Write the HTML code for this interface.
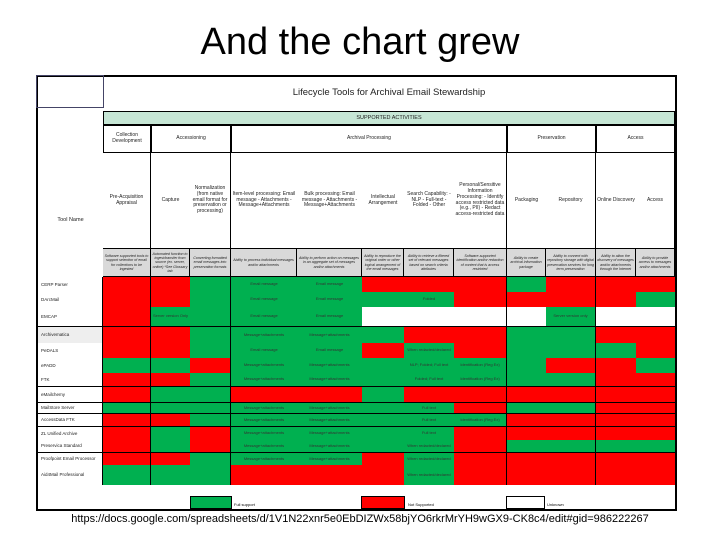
<!DOCTYPE html>
<html><head><meta charset="utf-8">
<style>
body{margin:0;width:720px;height:540px;background:#fff;overflow:hidden;position:relative;font-family:"Liberation Sans",sans-serif}
.a{position:absolute;box-sizing:border-box}
.c{display:flex;align-items:center;justify-content:center;text-align:center;font-size:5px;line-height:1.15;color:#222}
</style></head><body>
<div class="a" style="left:0;top:21px;width:720px;text-align:center;font-size:38px;color:#000">And the chart grew</div>
<div class="a" style="left:36px;top:75px;width:641px;height:436px;border:2px solid #000"></div>
<div class="a" style="left:36px;top:75px;width:68px;height:33px;border:1px solid #446"></div>
<div class="a" style="left:103px;top:87px;width:572px;text-align:center;font-size:9.5px;color:#222">Lifecycle Tools for Archival Email Stewardship</div>
<div class="a c" style="left:103px;top:111px;width:572px;height:14px;background:#c6e6d5;border:1px solid #000;font-size:5.5px">SUPPORTED ACTIVITIES</div>
<div class="a c" style="left:38px;top:200px;width:65px;height:40px;font-size:5.5px">Tool Name</div>
<div id="grid"></div>
<div class="a" style="left:190px;top:496px;width:42px;height:13px;background:#00b050;border:1px solid #000"></div>
<div class="a" style="left:234px;top:502px;font-size:4px">Full support</div>
<div class="a" style="left:361px;top:496px;width:44px;height:13px;background:#ff0000;border:1px solid #000"></div>
<div class="a" style="left:408px;top:502px;font-size:4px">Not Supported</div>
<div class="a" style="left:506px;top:496px;width:39px;height:13px;background:#fff;border:1px solid #000"></div>
<div class="a" style="left:547px;top:502px;font-size:4px">Unknown</div>
<div class="a" style="left:0;top:513px;width:720px;text-align:center;font-size:11px;color:#000">https://docs.google.com/spreadsheets/d/1V1N22xnr5e0EbDIZWx58bjYO6rkrMrYH9wGX9-CK8c4/edit#gid=986222267</div>
<script>
const tools=["CERP Parser","DArcMail","EMCAP","Archivematica","PeDALS","ePADD","FTK","eMailchemy","MailStore Server","AccessData FTK","ZL Unified Archive","Preservica Standard","Proofpoint Email Processor","Aid4Mail Professional"];
const support=[
"RRGGGRRRGRRR","RRGGGGGRRRRG","RGGGGWWWWGWW","RRGGGGRRGGRR","RRGGGRGRGGGR","GGRGGGGGGRRG","RRGGGGGGGGRR",
"RGGRRGRRRRRR","GGGGGGGRGGRR","RRGGGGGGRRRR","RGRGGGGRRRRR","RGRGGGGRGGGG","RRGGGRGRRRRR","GGGRRRGRRRRR"];
const cellText=[
["","","","Email message","Email message","","","","","","",""],
["","","","Email message","Email message","","Folded","","","","",""],
["","Server version Only","","Email message","Email message","","","","","Server version only","",""],
["","","","Message+attachments","Message+attachments","","","","","","",""],
["","","","Email message","Email message","","When redacted/declared","","","","",""],
["","","","Message+attachments","Message+attachments","","NLP; Folded; Full text","Identification (Reg Ex)","","","",""],
["","","","Message+attachments","Message+attachments","","Folded; Full text","Identification (Reg Ex)","","","",""],
["","","","","","","","","","","",""],
["","","","Message+attachments","Message+attachments","","Full text","","","","",""],
["","","","Message+attachments","Message+attachments","","Full text","Identification (Reg Ex)","","","",""],
["","","","Message+attachments","Message+attachments","","Full text","","","","",""],
["","","","Message+attachments","Message+attachments","","When redacted/declared","","","","",""],
["","","","Message+attachments","Message+attachments","","When redacted/declared","","","","",""],
["","","","","","","When redacted/declared","","","","",""]];
const groups=["Collection Development","Accessioning","Archival Processing","Preservation","Access"];
const groupSpan=[1,2,5,2,2];
const headers=["Pre-Acquisition Appraisal","Capture","Normalization (from native email format for preservation or processing)","Item-level processing: Email message - Attachments - Message+Attachments","Bulk processing: Email message - Attachments - Message+Attachments","Intellectual Arrangement","Search Capability: - NLP - Full-text - Folded - Other","Personal/Sensitive Information Processing: - Identify access restricted data (e.g., PII) - Redact access-restricted data","Packaging","Repository","Online Discovery","Access"];
const descs=["Software supported tools to support selection of email for collections to be ingested","Automated function to ingest/transfer from source (ex. server, online) *See Glossary tab","Converting formatted email messages into preservation formats","Ability to process individual messages and/or attachments","Ability to perform action on messages in an aggregate set of messages and/or attachments","Ability to reproduce the original order or other logical arrangement of the email messages","Ability to retrieve a filtered set of relevant messages based on search criteria attributes","Software-supported identification and/or redaction of content that is access restricted","Ability to create archival information package","Ability to connect with repository storage with digital preservation services for long term preservation","Ability to allow the discovery of messages and/or attachments through the Internet","Ability to provide access to messages and/or attachments"];
const X=[103,151,190,231,297,362,404,454,507,546,596,636,675];
const Y=[277,292,307,327,343,358,373,387,403,414,427,440,453,465,485];
const COL={G:"#00b050",R:"#ff0000",W:"#ffffff"};
const g=document.getElementById('grid');
function box(x,y,w,h,bg,txt,cls){const d=document.createElement('div');d.className='a c';d.style.cssText=`left:${x}px;top:${y}px;width:${w}px;height:${h}px;background:${bg};${cls||''}`;d.textContent=txt;g.appendChild(d);return d;}
let ci=0;
groups.forEach((t,i)=>{const x0=X[ci],x1=X[ci+groupSpan[i]];ci+=groupSpan[i];
const d=box(x0,125,x1-x0,28,"#fff",t,"border:1px solid #000;");

});
headers.forEach((t,j)=>{const d=box(X[j],153,X[j+1]-X[j],96,"#fff",t,"border-right:"+([0,2,7,9,11].includes(j)?"1px solid #000":"none")+";border-bottom:1px solid #000;font-size:5px;padding:1px;");


const e=box(X[j],249,X[j+1]-X[j],28,"#d9d9d9",descs[j],"border-right:1px solid #000;border-bottom:1px solid #000;font-size:3.6px;font-style:italic;padding:1px;");

});
const thick=[2,6,7,8,9,11];
tools.forEach((t,r)=>{const y0=Y[r],h=Y[r+1]-Y[r];
const bb=thick.includes(r)?"border-bottom:1px solid #000;":"";
const l=box(38,y0,65,h,r==3?"#eee":"#fff",t,bb+"border-right:1px solid #000;justify-content:flex-start;padding-left:3px;font-size:4.5px;");


for(let j=0;j<12;j++){const s=support[r][j];
const d=box(X[j],y0,X[j+1]-X[j],h,COL[s],cellText[r][j],bb+([0,2,7,9].includes(j)?"border-right:1px solid #000;":"")+"font-size:4px;color:#333;");

}});
</script>
</body></html>
